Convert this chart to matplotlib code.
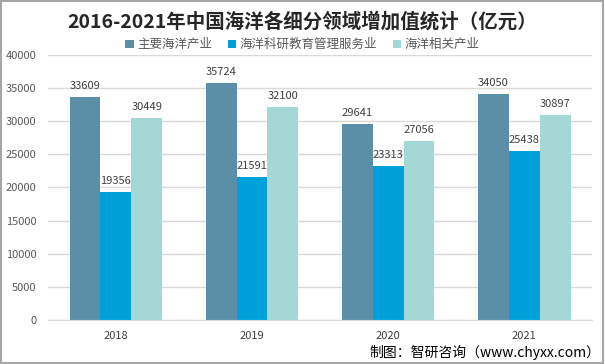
import matplotlib.pyplot as plt
import numpy as np

plt.rcParams['font.family'] = ['Noto Sans CJK SC', 'DejaVu Sans']

years = ['2018', '2019', '2020', '2021']
series = ['主要海洋产业', '海洋科研教育管理服务业', '海洋相关产业']
main_ind = [33609, 35724, 29641, 34050]
research = [19356, 21591, 23313, 25438]
related = [30449, 32100, 27056, 30897]
colors = ['#5B8FA8', '#00A1DA', '#A3D8D4']

fig = plt.figure(figsize=(6.05, 3.64), dpi=100)
ax = fig.add_axes([0.079, 0.121, 0.900, 0.728])

x = np.arange(len(years))
w = 0.227
for i, (vals, name) in enumerate(zip([main_ind, research, related], series)):
    pos = x + (i - 1) * w
    ax.bar(pos, vals, w, color=colors[i], label=name, zorder=2)
    for p, v in zip(pos, vals):
        ax.text(p, v + 900, str(v), ha='center', va='bottom',
                fontsize=8, color='#404040')

ax.set_xlim(-0.5, 3.5)
ax.set_ylim(0, 40000)
ax.set_yticks(range(0, 40001, 5000))
ax.set_xticks(x)
ax.set_xticklabels(years, fontsize=8, color='#404040')
ax.tick_params(axis='y', labelsize=8, labelcolor='#595959', length=0, pad=8)
ax.tick_params(axis='x', length=0, pad=8)
ax.grid(axis='y', color='#D9D9D9', linewidth=1, zorder=0)
for s in ['top', 'right', 'left']:
    ax.spines[s].set_visible(False)
ax.spines['bottom'].set_color('#D9D9D9')

fig.text(0.5, 0.94, '2016-2021年中国海洋各细分领域增加值统计（亿元）',
         ha='center', va='center', fontsize=14, fontweight='bold', color='#262626')
fig.legend(loc='center', bbox_to_anchor=(0.5, 0.877), ncol=3, frameon=False,
           fontsize=9, handlelength=0.7, handleheight=0.7, handletextpad=0.3,
           columnspacing=1.2, labelcolor='#595959')
fig.text(0.993, 0.032, '制图：智研咨询（www.chyxx.com）', ha='right', va='center',
         fontsize=10, color='#000000')

fig.patches.append(plt.Rectangle((0.002, 0.003), 0.995, 0.994, transform=fig.transFigure,
                                 fill=False, edgecolor='#A6A6A6', linewidth=1.5))

fig.savefig('out.png', dpi=100)
